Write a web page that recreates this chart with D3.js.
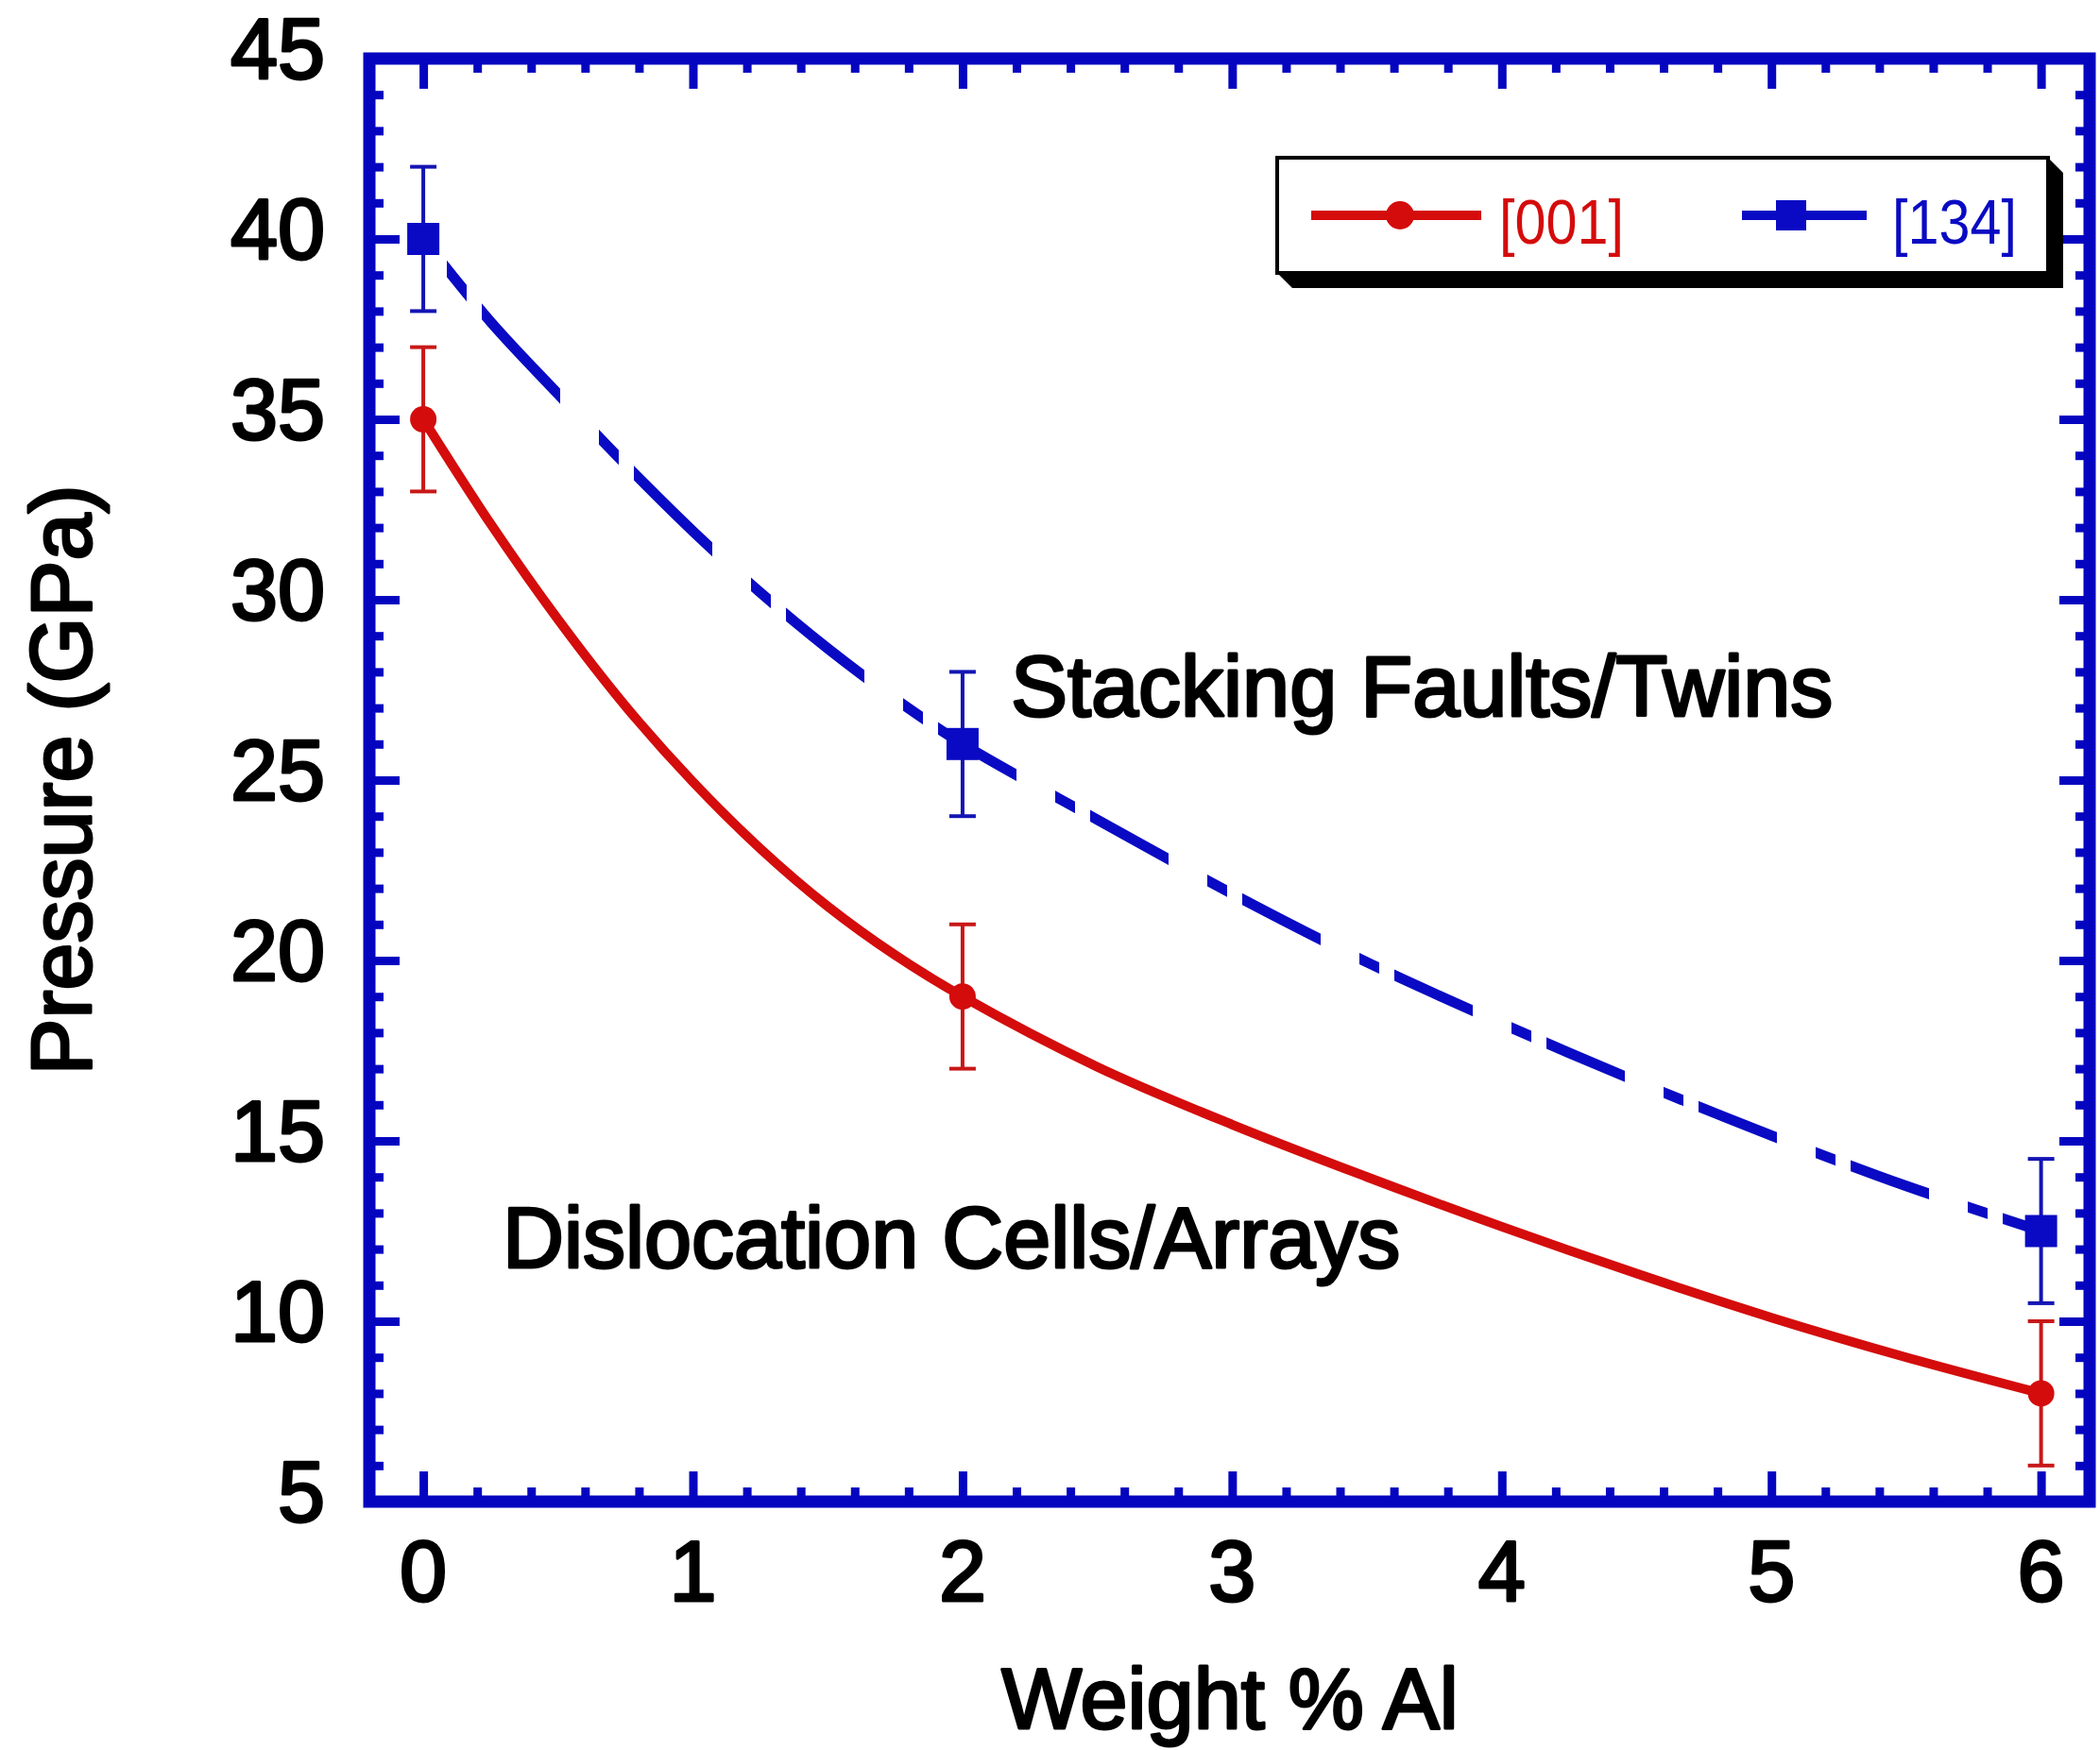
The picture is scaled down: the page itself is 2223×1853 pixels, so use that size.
<!DOCTYPE html>
<head>
  <meta charset="utf-8">
  <script src="https://d3js.org/d3.v7.min.js"></script>
  <style>
    body { margin:0; background:#fff; }
    text { font-family: "Liberation Sans", Arial, sans-serif; }
    .lbl { font-size: 90px; fill:#000; stroke:#000; stroke-width:3px; stroke-linejoin:round; }
  </style>
</head>
<body>
<script>
  // data
  var fitX    = [0, 0.25, 0.5, 0.75, 1, 1.25, 1.5, 1.75, 2, 2.5, 3, 3.5, 4, 4.5, 5, 5.5, 6];
  var fit001  = [35, 32.1, 29.45, 27.05, 24.95, 23.1, 21.5, 20.15, 19.0, 17.05, 15.45, 14.0, 12.62, 11.32, 10.1, 9.0, 8.0];
  var fit134  = [40, 37.7, 35.7, 33.75, 31.9, 30.2, 28.65, 27.25, 26.0, 23.9, 21.85, 19.95, 18.25, 16.65, 15.15, 13.75, 12.5];
  var ptX     = [0, 2, 6];
  var pt001   = [35, 19, 8];
  var err001  = [2, 2, 2];
  var pt134   = [40, 26, 12.5];
  var err134  = [2, 2, 2];
  var xTicks  = [0, 1, 2, 3, 4, 5, 6];
  var yTicks  = [5, 10, 15, 20, 25, 30, 35, 40, 45];
  var seriesNames = ["[001]", "[134]"];

  var RED = "#d40c0c", BLUE = "#0a0ac4", FRAME = "#0505c0";

  var W = 2223, H = 1853;
  var plotL = 391, plotR = 2212, plotT = 62, plotB = 1590;

  var svg = d3.select("body").append("svg")
    .attr("width", W).attr("height", H);

  var x = d3.scaleLinear().domain([-0.2, 6.18]).range([plotL, plotR]);
  var y = d3.scaleLinear().domain([5, 45]).range([plotB, plotT]);

  var xMinor = d3.range(0, 6.01, 0.2).map(function(d){ return +d.toFixed(1); })
    .filter(function(d){ return xTicks.indexOf(d) < 0; });
  var yMinor = d3.range(5, 45.1, 1).filter(function(d){ return yTicks.indexOf(d) < 0; });

  function tickAxis(axisFn, scale, vals, size, tr) {
    var g = svg.append("g").attr("transform", tr)
      .call(axisFn(scale).tickValues(vals).tickSize(-size).tickFormat(""));
    g.select(".domain").remove();
    g.selectAll("line").attr("stroke", FRAME).attr("stroke-width", 9);
    return g;
  }
  // inward ticks on all four sides
  tickAxis(d3.axisBottom, x, xTicks, 32, "translate(0," + plotB + ")");
  tickAxis(d3.axisBottom, x, xMinor, 15, "translate(0," + plotB + ")");
  tickAxis(d3.axisTop, x, xTicks, 32, "translate(0," + plotT + ")");
  tickAxis(d3.axisTop, x, xMinor, 15, "translate(0," + plotT + ")");
  tickAxis(d3.axisLeft, y, yTicks, 32, "translate(" + plotL + ",0)");
  tickAxis(d3.axisLeft, y, yMinor, 15, "translate(" + plotL + ",0)");
  tickAxis(d3.axisRight, y, yTicks, 32, "translate(" + plotR + ",0)");
  tickAxis(d3.axisRight, y, yMinor, 15, "translate(" + plotR + ",0)");

  // frame
  svg.append("rect")
    .attr("x", plotL).attr("y", plotT)
    .attr("width", plotR - plotL).attr("height", plotB - plotT)
    .attr("fill", "none").attr("stroke", FRAME).attr("stroke-width", 13);

  // tick labels
  svg.append("g").selectAll("text").data(xTicks).enter().append("text")
    .attr("class", "lbl")
    .attr("x", function(d){ return x(d); })
    .attr("y", 1695)
    .attr("text-anchor", "middle")
    .text(function(d){ return d; });

  svg.append("g").selectAll("text").data(yTicks).enter().append("text")
    .attr("class", "lbl")
    .attr("x", 344)
    .attr("y", function(d){ return y(d) + 21; })
    .attr("text-anchor", "end")
    .text(function(d){ return d; });

  // axis titles
  svg.append("text").attr("class", "lbl")
    .attr("x", 1302).attr("y", 1830)
    .attr("text-anchor", "middle")
    .text("Weight % Al");

  svg.append("text").attr("class", "lbl")
    .attr("transform", "translate(96," + ((plotT + plotB) / 2) + ") rotate(-90)")
    .attr("text-anchor", "middle")
    .text("Pressure (GPa)");

  // fitted curves
  var line = d3.line()
    .x(function(d){ return x(d[0]); })
    .y(function(d){ return y(d[1]); })
    .curve(d3.curveCatmullRom.alpha(0.5));

  // dash-dot pattern of the [134] fit is laid out along x (px): long, gap, short, gap
  var dashPhase = 0.217, dashCycle = 161, dashLong = 83, dashShortAt = 124, dashShort = 21;
  var clip = svg.append("defs").append("clipPath").attr("id", "dashclip");
  var xs = x(dashPhase) - dashCycle * 2;
  for (var s = xs; s < plotR; s += dashCycle) {
    clip.append("rect").attr("x", s).attr("y", plotT).attr("width", dashLong).attr("height", plotB - plotT);
    clip.append("rect").attr("x", s + dashShortAt).attr("y", plotT).attr("width", dashShort).attr("height", plotB - plotT);
  }

  svg.append("path")
    .datum(fitX.map(function(v, i){ return [v, fit134[i]]; }))
    .attr("d", line)
    .attr("clip-path", "url(#dashclip)")
    .attr("fill", "none").attr("stroke", BLUE).attr("stroke-width", 11);

  svg.append("path")
    .datum(fitX.map(function(v, i){ return [v, fit001[i]]; }))
    .attr("d", line)
    .attr("fill", "none").attr("stroke", RED).attr("stroke-width", 10)
    .attr("stroke-linejoin", "round");

  // error bars
  function errBars(vals, errs, col) {
    var g = svg.append("g").attr("stroke", col).attr("stroke-width", 4);
    ptX.forEach(function(px, i) {
      var cx = x(px), lo = y(vals[i] - errs[i]), hi = y(vals[i] + errs[i]);
      g.append("line").attr("x1", cx).attr("x2", cx).attr("y1", lo).attr("y2", hi);
      g.append("line").attr("x1", cx - 14).attr("x2", cx + 14).attr("y1", lo).attr("y2", lo);
      g.append("line").attr("x1", cx - 14).attr("x2", cx + 14).attr("y1", hi).attr("y2", hi);
    });
  }
  errBars(pt001, err001, "#c81818");
  errBars(pt134, err134, "#1414b4");

  // markers
  svg.append("g").selectAll("circle").data(ptX).enter().append("circle")
    .attr("cx", function(d){ return x(d); })
    .attr("cy", function(d, i){ return y(pt001[i]); })
    .attr("r", 14).attr("fill", RED);

  svg.append("g").selectAll("rect").data(ptX).enter().append("rect")
    .attr("x", function(d){ return x(d) - 17; })
    .attr("y", function(d, i){ return y(pt134[i]) - 17; })
    .attr("width", 34).attr("height", 34).attr("fill", BLUE);

  // region annotations
  svg.append("text").attr("class", "lbl")
    .attr("x", 1070).attr("y", 758)
    .text("Stacking Faults/Twins");
  svg.append("text").attr("class", "lbl")
    .attr("x", 532).attr("y", 1342)
    .text("Dislocation Cells/Arrays");

  // legend with 3D shadow
  var lx0 = 1352, lx1 = 2168, ly0 = 167, ly1 = 289, sh = 16;
  svg.append("polygon")
    .attr("points", [[lx0, ly1], [lx0 + sh, ly1 + sh], [lx1 + sh, ly1 + sh],
                     [lx1 + sh, ly0 + sh], [lx1, ly0]].join(" "))
    .attr("fill", "#000");
  svg.append("rect")
    .attr("x", lx0).attr("y", ly0)
    .attr("width", lx1 - lx0).attr("height", ly1 - ly0)
    .attr("fill", "#fff").attr("stroke", "#000").attr("stroke-width", 4);

  var legY = 228;
  svg.append("line").attr("x1", 1388).attr("x2", 1568).attr("y1", legY).attr("y2", legY)
    .attr("stroke", RED).attr("stroke-width", 10);
  svg.append("circle").attr("cx", 1482).attr("cy", legY).attr("r", 15).attr("fill", RED);
  svg.append("text").attr("x", 1587).attr("y", 258)
    .attr("font-size", 66).attr("fill", RED)
    .attr("textLength", 132).attr("lengthAdjust", "spacingAndGlyphs")
    .text(seriesNames[0]);

  svg.append("line").attr("x1", 1844).attr("x2", 1976).attr("y1", legY).attr("y2", legY)
    .attr("stroke", BLUE).attr("stroke-width", 10);
  svg.append("rect").attr("x", 1896 - 16).attr("y", legY - 16)
    .attr("width", 32).attr("height", 32).attr("fill", BLUE);
  svg.append("text").attr("x", 2003).attr("y", 258)
    .attr("font-size", 66).attr("fill", BLUE)
    .attr("textLength", 132).attr("lengthAdjust", "spacingAndGlyphs")
    .text(seriesNames[1]);
</script>
</body>
